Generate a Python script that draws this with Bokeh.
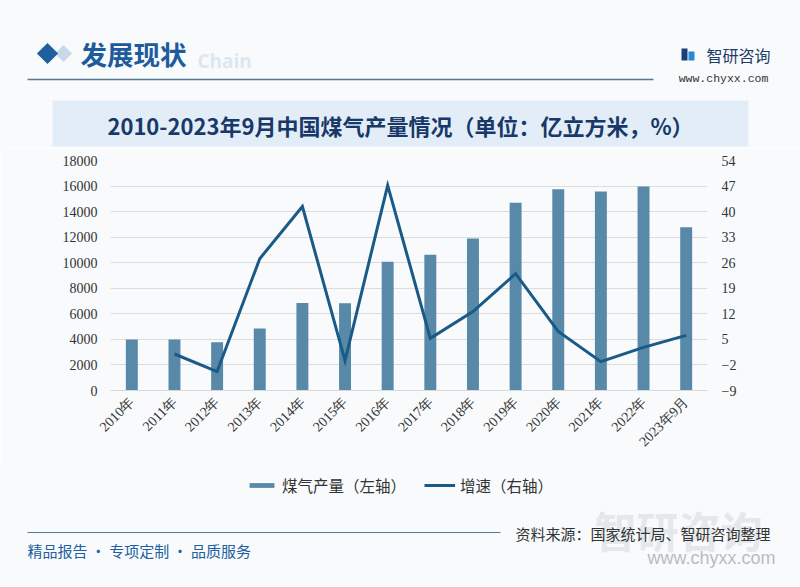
import math
from bokeh.plotting import figure
from bokeh.models import (Range1d, FactorRange, LinearAxis, FixedTicker, Legend, LegendItem)
from bokeh.core.properties import value
from bokeh.embed import file_html
from bokeh.resources import INLINE

# ---------------- data ----------------
categories = ["2010年", "2011年", "2012年", "2013年", "2014年", "2015年", "2016年",
              "2017年", "2018年", "2019年", "2020年", "2021年", "2022年", "2023年9月"]
output = [3990, 4000, 3780, 4850, 6840, 6830, 10070, 10620, 11900, 14690, 15750, 15570, 15960, 12780]
growth_years = categories[1:]
growth = [1.0, -3.8, 27.1, 41.4, -0.8, 47.2, 5.3, 12.6, 23.0, 7.2, -1.1, 2.8, 6.1]
left_ticks = [0, 2000, 4000, 6000, 8000, 10000, 12000, 14000, 16000, 18000]
right_ticks = [-9, -2, 5, 12, 19, 26, 33, 40, 47, 54]

BG = "#f8fafc"
BAR = "#5889a9"
LINE = "#1a5a87"
CJK = "Noto Sans CJK SC"
W = 800


def deco_fig(y0, y1):
    # a figure whose whole canvas is its frame; data units = page pixels
    f = figure(width=W, height=y1 - y0, x_range=Range1d(0, W), y_range=Range1d(y1, y0),
               toolbar_location=None, output_backend="svg", min_border=0,
               x_axis_location=None, y_axis_location=None)
    f.grid.visible = False
    f.outline_line_color = None
    f.background_fill_color = BG
    f.border_fill_color = BG
    return f


def txt(f, x, y, s, size, color, font=CJK, style="normal", align="left"):
    f.text(x=[x], y=[y], text=[s], text_font=value(font), text_font_size=size,
           text_color=color, text_font_style=style, text_align=align, text_baseline="middle")


# ---------------- header ----------------
top = deco_fig(0, 148)
top.scatter(x=[63], y=[53], marker="square", size=12, angle=math.pi / 4,
            fill_color="#c9d9ea", line_color=None)
top.scatter(x=[47], y=[53], marker="square", size=15, angle=math.pi / 4,
            fill_color="#1f5fa0", line_color=None)
txt(top, 197, 60, "Chain", "19px", "#dce7f1", font="Open Sans", style="bold")
txt(top, 80, 53, "发展现状", "26.5px", "#1d5b9b", style="bold")
top.line(x=[27, 653], y=[79, 79], line_color="#557a99", line_width=1.5)
top.quad(left=[681], right=[687], top=[48], bottom=[60], fill_color="#1a3f78", line_color=None)
top.quad(left=[688], right=[694], top=[51], bottom=[60], fill_color="#2f86d0", line_color=None)
txt(top, 706, 54, "智研咨询", "16px", "#1f3b6a")
txt(top, 723, 78, "www.chyxx.com", "11.5px", "#333333", font="Liberation Mono", align="center")
top.quad(left=[52], right=[748], top=[100], bottom=[146], fill_color="#e2edf8", line_color=None)
txt(top, 400, 124, "2010-2023年9月中国煤气产量情况（单位：亿立方米，%）", "22px", "#183867",
    style="bold", align="center")

# ---------------- main chart ----------------
p = figure(width=W, height=320, x_range=FactorRange(*categories), y_range=Range1d(0, 18000),
           toolbar_location=None, output_backend="svg",
           min_border_top=12, min_border_left=110, min_border_right=93, min_border_bottom=78)
p.background_fill_color = BG
p.border_fill_color = BG
p.outline_line_color = None
p.extra_y_ranges = {"right": Range1d(-9, 54)}

bars = p.vbar(x=categories, top=output, width=0.28, fill_color=BAR, line_color=None)
line = p.line(x=growth_years, y=growth, y_range_name="right", line_color=LINE,
              line_width=3, line_join="miter")

p.yaxis[0].ticker = FixedTicker(ticks=left_ticks)
raxis = LinearAxis(y_range_name="right", ticker=FixedTicker(ticks=right_ticks))
p.add_layout(raxis, "right")

for ax, so in ((p.yaxis[0], 13), (raxis, 14)):
    ax.axis_line_color = None
    ax.major_tick_line_color = None
    ax.minor_tick_line_color = None
    ax.major_tick_out = 0
    ax.major_tick_in = 0
    ax.major_label_standoff = so
    ax.major_label_text_font = "Liberation Serif"
    ax.major_label_text_font_size = "14px"
    ax.major_label_text_color = "#333333"

xa = p.xaxis[0]
xa.axis_line_color = "#d9d9d9"
xa.major_tick_line_color = None
xa.major_tick_out = 0
xa.major_tick_in = 0
xa.major_label_standoff = 9
xa.major_label_orientation = math.pi / 4
xa.major_label_text_font = "Liberation Serif"
xa.major_label_text_font_size = "14px"
xa.major_label_text_color = "#333333"

p.xgrid.visible = False
p.ygrid[0].grid_line_color = "#dcdcdc"

# ---------------- legend + footer ----------------
bot = deco_fig(468, 587)
# legend swatch renderers (kept outside the visible range, only used by the legend)
leg_bar = bot.vbar(x=[-50], top=[0], bottom=[1], width=1, fill_color=BAR, line_color=None)
leg_line = bot.line(x=[-60, -50], y=[0, 0], line_color=LINE, line_width=3)
legend = Legend(items=[LegendItem(label=value("煤气产量（左轴）"), renderers=[leg_bar]),
                       LegendItem(label=value("增速（右轴）"), renderers=[leg_line])],
                orientation="horizontal", location=(246, 91),
                border_line_color=None, background_fill_alpha=0,
                label_text_font=CJK, label_text_font_size="15.5px", label_text_color="#333333",
                glyph_width=31, glyph_height=6, spacing=18, label_standoff=5,
                margin=0, padding=2)
bot.add_layout(legend, "center")

txt(bot, 594, 529, "智研咨询", "42px", "#e4e7eb", style="bold")
bot.line(x=[27, 500], y=[532, 532], line_color="#557a99", line_width=1.2)
txt(bot, 27, 550, "精品报告 · 专项定制 · 品质服务", "15px", "#2060a0")
txt(bot, 770, 533, "资料来源：国家统计局、智研咨询整理", "15px", "#333333", align="right")
txt(bot, 775, 557, "www.chyxx.com", "18px", "#b8bcc0", font="Liberation Sans", align="right")

open("out.html", "w").write(file_html([top, p, bot], INLINE))
